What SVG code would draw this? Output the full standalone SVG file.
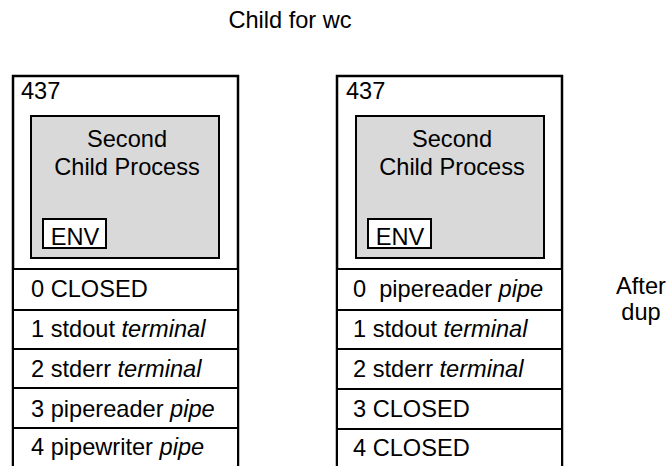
<svg xmlns="http://www.w3.org/2000/svg" width="669" height="466" viewBox="0 0 669 466">
  <style>
    text { font-family: "Liberation Sans", Arial, sans-serif; font-size: 23.6px; fill: #000; }
    .mid { text-anchor: middle; }
    .it { font-style: italic; }
    .outer { fill: #fff; stroke: #000; stroke-width: 2.5; }
    .proc { fill: #d9d9d9; stroke: #000; stroke-width: 2; }
    .env { fill: #fff; stroke: #000; stroke-width: 2; }
    .row { fill: #fff; stroke: #000; stroke-width: 2; }
  </style>

  <text id="title" class="mid" x="290" y="28">Child for wc</text>

  <!-- process 437, before dup -->
  <g id="proc-before">
    <rect class="outer" x="13" y="76" width="225" height="400"/>
    <text x="21" y="99">437</text>
    <rect class="proc" x="31" y="116" width="188" height="142"/>
    <text class="mid" x="127" y="147">Second</text>
    <text class="mid" x="127" y="175">Child Process</text>
    <rect class="env" x="43" y="219" width="63" height="29"/>
    <text class="mid" x="75" y="245">ENV</text>
    <rect class="row" x="13" y="269" width="225" height="41"/>
    <text x="31" y="297">0 CLOSED</text>
    <rect class="row" x="13" y="310" width="225" height="39"/>
    <text x="31" y="337">1 stdout <tspan class="it">terminal</tspan></text>
    <rect class="row" x="13" y="349" width="225" height="39"/>
    <text x="31" y="377">2 stderr <tspan class="it">terminal</tspan></text>
    <rect class="row" x="13" y="388" width="225" height="40"/>
    <text x="31" y="417">3 pipereader <tspan class="it">pipe</tspan></text>
    <rect class="row" x="13" y="428" width="225" height="48"/>
    <text x="31" y="455">4 pipewriter <tspan class="it">pipe</tspan></text>
  </g>

  <!-- process 437, after dup -->
  <g id="proc-after">
    <rect class="outer" x="337" y="76" width="225" height="400"/>
    <text x="346" y="99">437</text>
    <rect class="proc" x="356" y="116" width="188" height="142"/>
    <text class="mid" x="452" y="147">Second</text>
    <text class="mid" x="452" y="175">Child Process</text>
    <rect class="env" x="368" y="219" width="63" height="29"/>
    <text class="mid" x="400" y="245">ENV</text>
    <rect class="row" x="337" y="269" width="225" height="41"/>
    <text x="353" y="297" xml:space="preserve">0  pipereader <tspan class="it">pipe</tspan></text>
    <rect class="row" x="337" y="310" width="225" height="39"/>
    <text x="353" y="337">1 stdout <tspan class="it">terminal</tspan></text>
    <rect class="row" x="337" y="349" width="225" height="40"/>
    <text x="353" y="377">2 stderr <tspan class="it">terminal</tspan></text>
    <rect class="row" x="337" y="389" width="225" height="40"/>
    <text x="353" y="417">3 CLOSED</text>
    <rect class="row" x="337" y="429" width="225" height="47"/>
    <text x="353" y="456">4 CLOSED</text>
  </g>

  <g id="label-after-dup">
    <text class="mid" x="641" y="294">After</text>
    <text class="mid" x="641" y="320">dup</text>
  </g>

  <g id="connectors"></g>
</svg>
